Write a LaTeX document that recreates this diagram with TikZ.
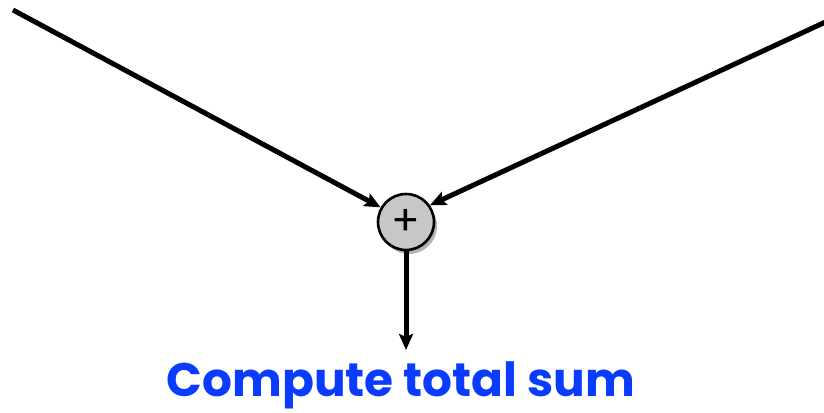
\documentclass[tikz,border=0pt]{standalone}
\usepackage{fontspec}
\setmainfont{Poppins}
\usetikzlibrary{arrows.meta,shadows}
\definecolor{txtblue}{HTML}{0A3CFF}
\begin{document}
\begin{tikzpicture}[x=1pt,y=-1pt,
  conn/.style={line width=5pt,-{Stealth[length=16pt,width=14pt,inset=3pt]}},
  sumnode/.style={circle,draw=black,line width=2.6pt,fill=black!22,minimum size=56pt,inner sep=0pt,
    drop shadow={shadow xshift=3pt,shadow yshift=-4pt,opacity=0.3,fill=black}},
  label/.style={text=txtblue,font=\bfseries\fontsize{47}{50}\selectfont}]
\useasboundingbox (0,0) rectangle (824,412);
\coordinate (lstart) at (13,10);
\coordinate (rstart) at (832,19);
\coordinate (down) at (406,350);
\node[sumnode] (sum) at (406,222) {\fontsize{42}{42}\selectfont +};
\node[label,anchor=base] (txt) at (401,396) {Compute total sum};
\draw[conn] (lstart) -- (sum.150);
\draw[conn] (rstart) -- (sum.35);
\draw[conn] (sum.south) -- (down);
\end{tikzpicture}
\end{document}
